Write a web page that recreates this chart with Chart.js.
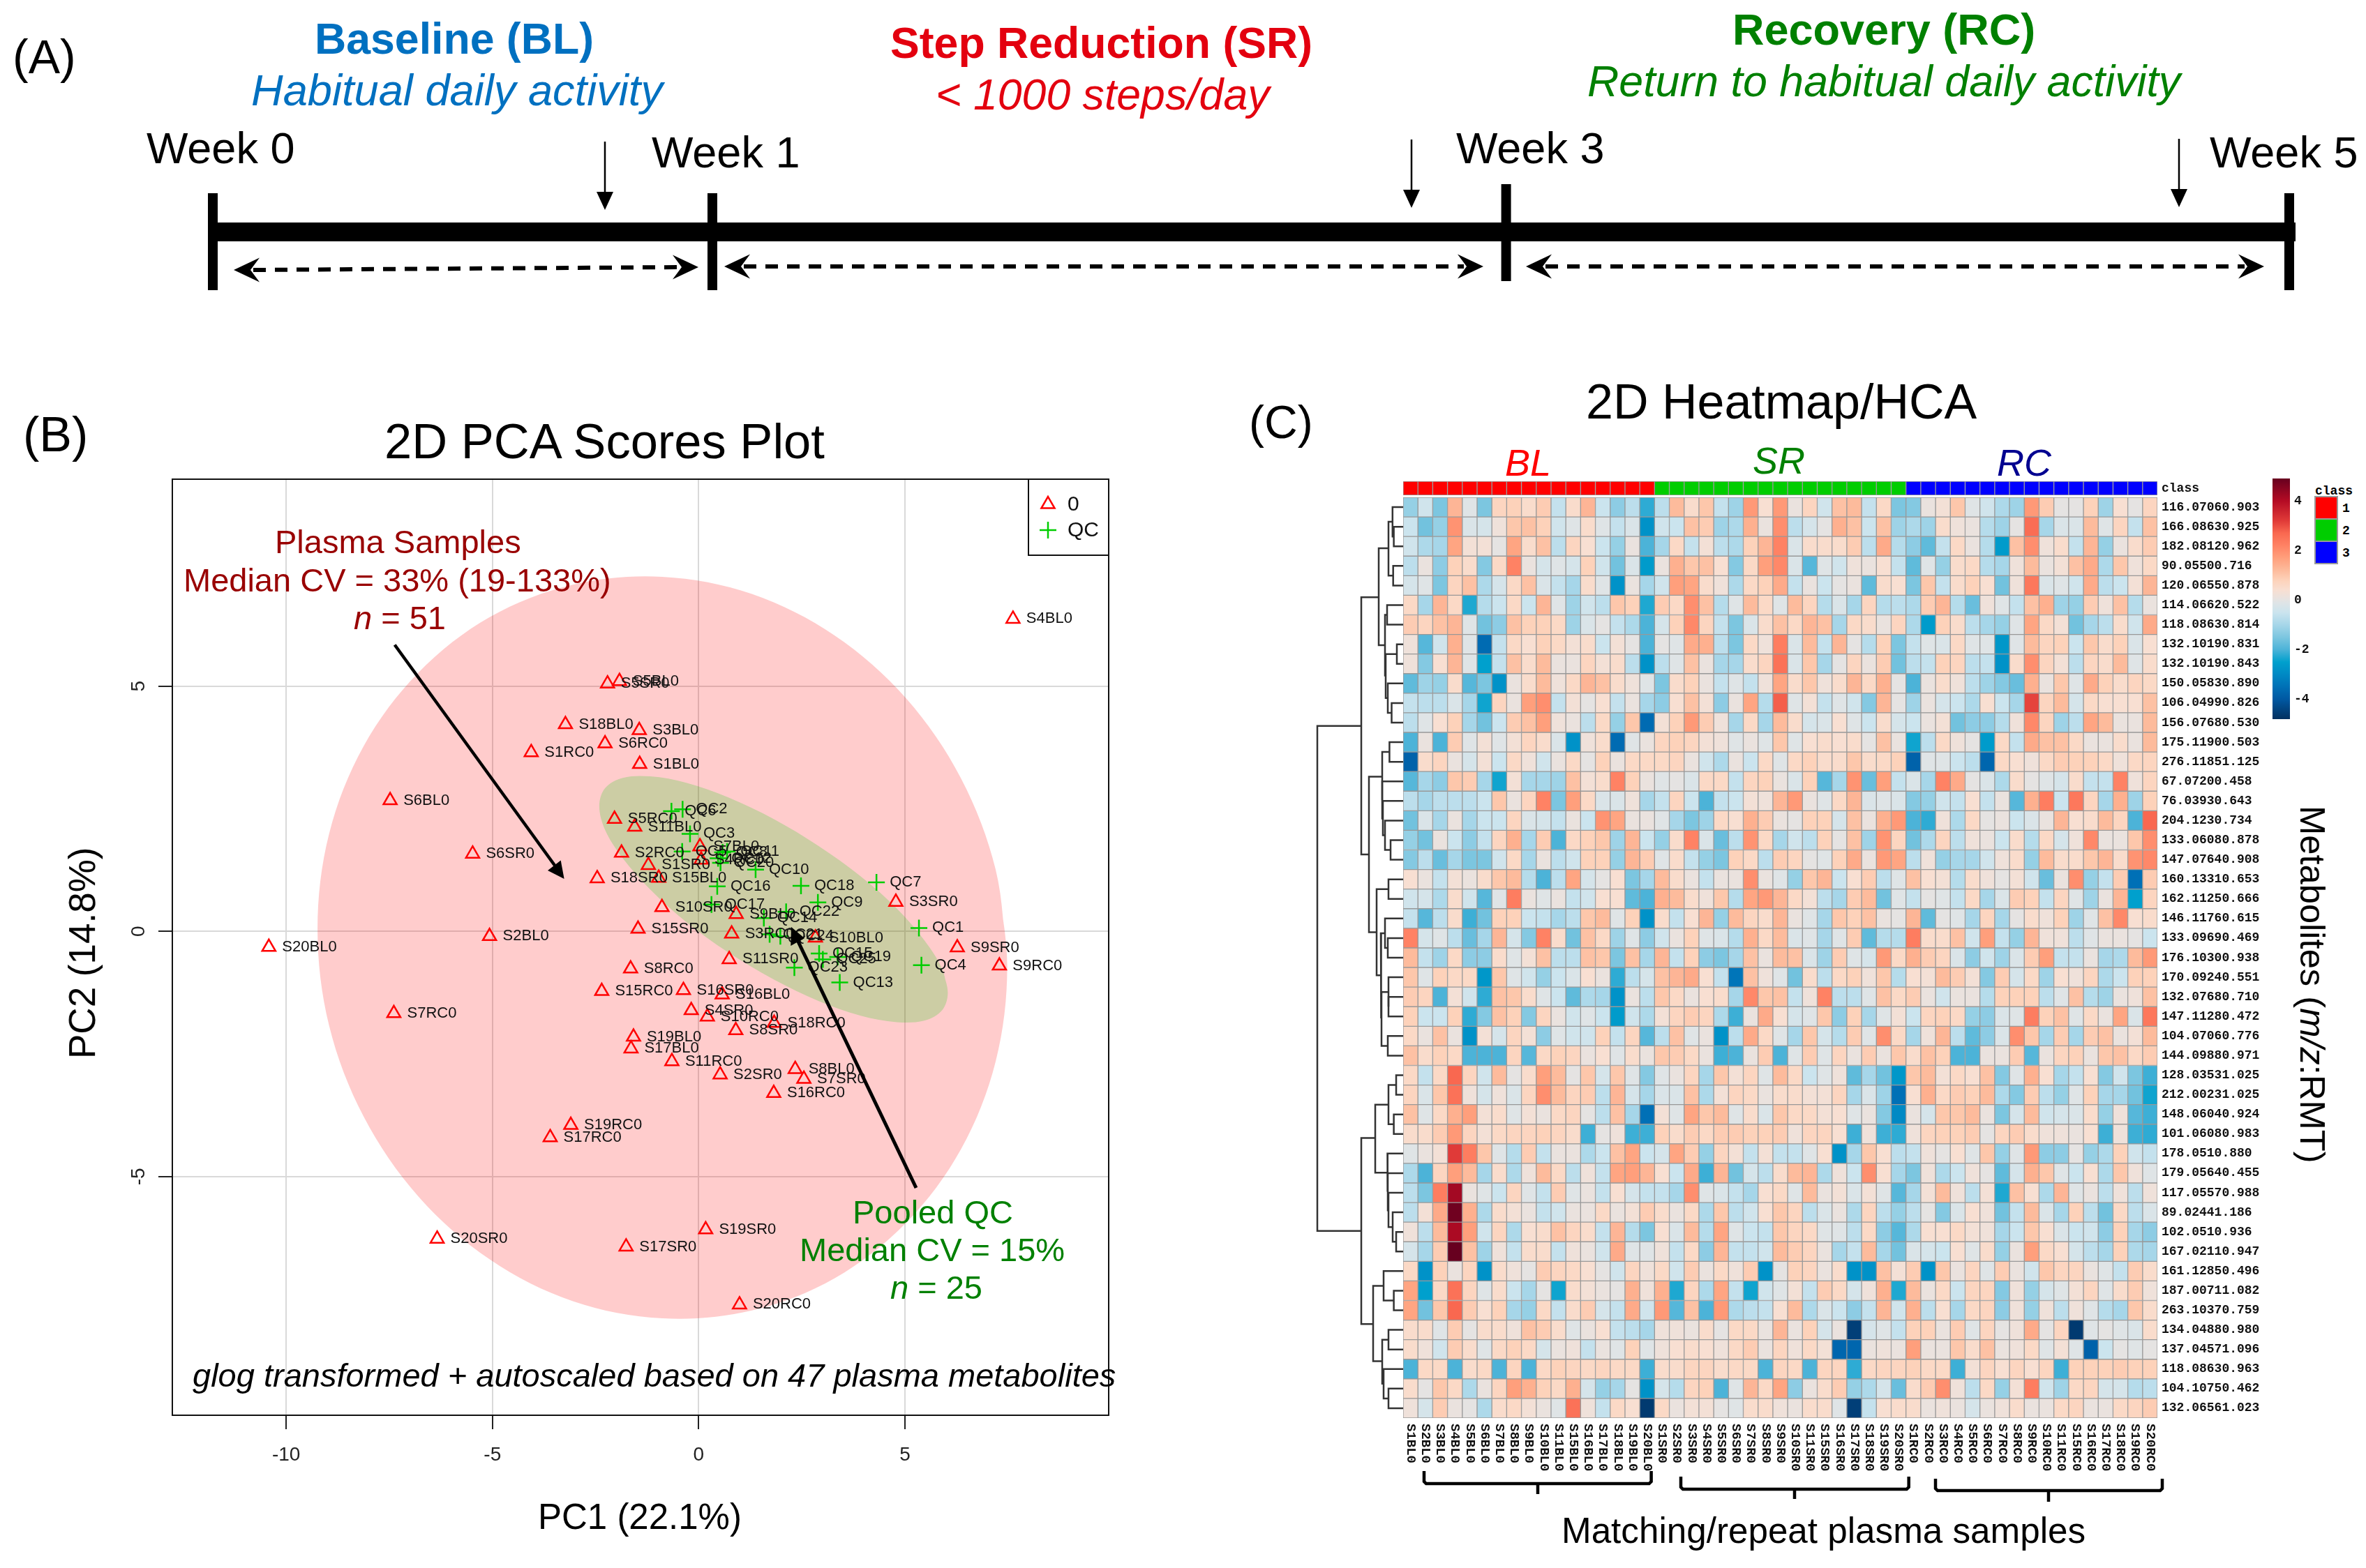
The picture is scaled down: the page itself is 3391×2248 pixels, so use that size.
<!DOCTYPE html>
<html>
<head>
<meta charset="utf-8">
<title>PCA and heatmap figure</title>
<script src="https://cdn.jsdelivr.net/npm/chart.js@4/dist/chart.umd.min.js"></script>
<style>
  html, body { margin: 0; background: #fff; }
  #page { position: relative; width: 3391px; height: 2248px; overflow: hidden; background: #fff; }
  canvas { position: absolute; }
  .note { position: absolute; left: 0; top: 0; line-height: 1; white-space: nowrap; transform-origin: 0 0; font-family: "Liberation Sans", Arial, sans-serif; }
  .swatch { position: absolute; box-sizing: border-box; border: 2px solid #999; }
</style>
</head>
<body>
<div id="page"></div>
<script>
// ---- PCA scores (panel B) ----
const sampleLabels = ['S1BL0','S2BL0','S3BL0','S4BL0','S5BL0','S6BL0','S7BL0','S8BL0','S9BL0','S10BL0','S11BL0','S15BL0','S16BL0','S17BL0','S18BL0','S19BL0','S20BL0',
  'S1SR0','S2SR0','S3SR0','S4SR0','S5SR0','S6SR0','S7SR0','S8SR0','S9SR0','S10SR0','S11SR0','S15SR0','S16SR0','S17SR0','S18SR0','S19SR0','S20SR0',
  'S1RC0','S2RC0','S3RC0','S4RC0','S5RC0','S6RC0','S7RC0','S8RC0','S9RC0','S10RC0','S11RC0','S15RC0','S16RC0','S17RC0','S18RC0','S19RC0','S20RC0'];
const sampleX = [-1.43,-5.07,-1.44,7.62,-1.92,-7.48,0.03,2.34,0.91,2.83,-1.55,-0.97,0.57,-1.64,-3.23,-1.58,-10.42,
  -1.22,0.52,4.78,-0.18,-2.21,-5.48,2.55,0.90,6.27,-0.89,0.74,-1.47,-0.37,-1.76,-2.46,0.17,-6.34,
  -4.06,-1.87,0.80,0.06,-2.04,-2.27,-7.39,-1.65,7.29,0.21,-0.65,-2.35,1.82,-3.60,1.83,-3.10,0.99];
const sampleY = [3.41,-0.10,4.10,6.37,5.10,2.67,1.73,-2.81,0.35,-0.13,2.13,1.09,-1.29,-2.39,4.22,-2.15,-0.32,
  1.35,-2.92,0.60,-1.61,5.05,1.58,-3.01,-2.02,-0.33,0.49,-0.57,0.05,-1.20,-6.43,1.08,-6.08,-6.27,
  3.65,1.60,-0.05,1.46,2.29,3.83,-1.67,-0.76,-0.70,-1.74,-2.65,-1.22,-3.30,-4.20,-1.87,-3.95,-7.61];
const qcLabels = ['QC1','QC2','QC3','QC4','QC5','QC6','QC7','QC8','QC9','QC10','QC11','QC12','QC13','QC14','QC15','QC16','QC17','QC18','QC19','QC20','QC21','QC22','QC23','QC24','QC25'];
const qcX = [5.34,-0.39,-0.21,5.40,-0.40,-0.66,4.31,0.58,2.89,1.38,0.69,0.47,3.42,1.58,2.92,0.45,0.31,2.48,3.37,0.53,1.72,2.12,2.32,1.98,3.01];
const qcY = [0.07,2.49,1.99,-0.69,1.63,2.45,1.00,1.61,0.59,1.26,1.63,1.49,-1.04,0.27,-0.45,0.92,0.55,0.93,-0.52,1.40,-0.06,0.40,-0.74,-0.10,-0.57];
// outlines of the two confidence ellipses
const plasmaOutlineX = [7.48,7.20,6.36,5.03,3.30,1.29,-0.88,-3.05,-5.06,-6.79,-8.12,-8.96,-9.24,-8.96,-8.12,-6.79,-5.06,-3.05,-0.88,1.29,3.30,5.03,6.36,7.20,7.48,7.20];
const plasmaOutlineY = [-0.71,1.26,3.12,4.75,6.03,6.88,7.23,7.07,6.41,5.28,3.78,1.99,0.05,-1.92,-3.78,-5.41,-6.69,-7.54,-7.89,-7.73,-7.07,-5.94,-4.44,-2.65,-0.71,1.26];
const qcOutlineX = [6.04,5.90,5.47,4.80,3.93,2.91,1.82,0.72,-0.30,-1.17,-1.84,-2.27,-2.41,-2.27,-1.84,-1.17,-0.30,0.72,1.82,2.91,3.93,4.80,5.47,5.90,6.04,5.90];
const qcOutlineY = [-1.25,-0.76,-0.18,0.47,1.12,1.74,2.29,2.73,3.03,3.16,3.13,2.92,2.56,2.07,1.49,0.85,0.19,-0.43,-0.98,-1.42,-1.72,-1.85,-1.82,-1.61,-1.25,-0.76];
const pcaTicksX = [-10,-5,0,5];
const pcaTicksY = [-5,0,5];
const pcaLegendNames = ['0','QC'];

// ---- heatmap (panel C) ----
const metabolites = ['116.07060.903','166.08630.925','182.08120.962','90.05500.716','120.06550.878','114.06620.522','118.08630.814','132.10190.831','132.10190.843','150.05830.890','106.04990.826','156.07680.530','175.11900.503','276.11851.125','67.07200.458','76.03930.643','204.1230.734','133.06080.878','147.07640.908','160.13310.653','162.11250.666','146.11760.615','133.09690.469','176.10300.938','170.09240.551','132.07680.710','147.11280.472','104.07060.776','144.09880.971','128.03531.025','212.00231.025','148.06040.924','101.06080.983','178.0510.880','179.05640.455','117.05570.988','89.02441.186','102.0510.936','167.02110.947','161.12850.496','187.00711.082','263.10370.759','134.04880.980','137.04571.096','118.08630.963','104.10750.462','132.06561.023'];
const classOfColumn = [1,1,1,1,1,1,1,1,1,1,1,1,1,1,1,1,1,2,2,2,2,2,2,2,2,2,2,2,2,2,2,2,2,2,3,3,3,3,3,3,3,3,3,3,3,3,3,3,3,3,3];
const heatValues = [
[-1.2,-.4,-1.5,1.3,-.1,-1.5,.7,.8,.5,.9,-.6,.5,1.3,-.5,-1.3,-.7,-2.2,-.7,1.2,.5,1,-.6,-1.1,1.8,.4,1.8,.1,.7,-.4,1.1,1.2,-.6,.6,-1.5,-1.4,.1,.3,1,-.1,-.4,-.9,-1.1,1.8,.9,0,0,.8,-1.1,.4,0,.7],
[-.5,-1.6,-1.2,1.9,-.2,-.3,.2,1,1.1,.8,-.4,-.1,.5,-.1,-.6,-.2,-2.8,-.4,-.5,1.1,.9,-1.1,-.9,1.4,.1,2,-.7,-.3,0,1.4,1.1,-.5,1.1,-1.1,-.9,-1.1,.5,.2,.1,-.8,-1.1,0,2.6,-1,-.2,-.2,1.2,-.1,.7,-.6,1.1],
[-.4,-.9,-1,1.6,.3,.3,0,1.6,.5,1.1,-.7,.7,.4,-.5,-1.2,.1,-2,-1,.6,-.6,.3,-.7,-.9,.8,1.3,2.2,-.2,.5,.5,.5,.9,-.7,1.5,-.8,-1.3,-1.8,-.6,.6,.1,-.8,-2.6,1.1,2,.2,.5,-.6,1.3,-1.2,.1,.5,.9],
[-.7,.1,-1.3,.8,.5,-1.4,.6,2.2,.1,-.3,-.1,-.3,.8,-.4,-1.6,-.2,-2.6,.1,1.4,1,1.1,.4,-1.4,.6,1.7,2.1,-.2,-1.9,-.1,-.4,.2,.1,.4,-.6,-1.8,-.1,-1.2,.5,.6,-.8,-1,.2,1.2,.1,.3,1.1,1.5,-.9,1,.2,.6],
[-.3,-.1,-1.5,.7,1.1,-.9,-.3,.6,1.1,-.2,-.6,-1,.5,-.1,-2.8,.1,-1,-.4,1.7,1.6,.5,.2,-.9,.6,.8,1.5,-.6,.1,-.5,0,.1,-1.8,.5,.4,-1.5,1,-.6,.5,.8,.4,-1.6,.2,2.4,-.2,-.1,-.4,1.5,-.7,-.5,.3,1.3],
[.6,-1,1.3,.6,-2.3,-.8,-.5,.6,-.5,1.3,-.1,-1.1,-.4,-.7,1,.8,-2.3,.9,.6,2,1.1,-.8,-.1,1.2,.6,-.1,1.2,.7,-.8,-.2,-1,.7,-.8,-.7,-.9,.9,1.3,-.8,-1.7,.2,-.1,-.6,1.1,1.4,-1.1,-1.2,.9,.2,1.1,-.8,.1],
[.9,.7,1.1,1.3,-.1,-1.6,-1.3,1.1,.8,.8,.6,-1.1,-.2,0,-.6,-.9,-2,-.3,.8,2.1,.7,-.6,-1.5,-.2,.5,1.1,.6,1.3,1.1,-1,.6,.5,.1,.7,-.9,-2.6,.8,.5,-.7,-1,-1.2,-.1,1.6,.6,.3,-1.6,-1,-.7,.5,-.4,1.5],
[.2,-1.9,-.4,1.4,-.1,-3.6,-.6,.6,.4,.8,.6,.3,.5,-.5,.3,0,-2,0,-.1,1.5,1.4,-.7,-1.5,.6,.2,2.3,-.2,1.2,-.6,1.3,0,-.8,.8,-1.5,-.6,-.1,-.2,.6,-.1,-.1,-2.7,-.1,1.2,.7,.8,-.5,1,.5,.8,-.2,.4],
[.2,-1.4,.4,1.3,-.1,-2.5,-.6,1.1,.5,1.2,.1,.1,.7,.3,.5,-.7,-2.8,-.7,-.1,1.1,.1,-1,-1,.5,.7,2.5,-.2,1,-1,0,.7,.1,.9,-1.6,-.7,-.6,.8,.7,-.7,-.6,-2.8,.5,2,.7,.3,-.7,.7,.5,1.2,-.1,.5],
[-1.8,-1.1,-1.2,.5,-1.9,-1.5,-2.8,.1,.5,1.2,.2,.6,1.3,1.1,.5,.2,-.1,-1.5,.5,.8,.1,-.6,-.1,-.6,.2,1.6,.5,1,.2,.5,1.3,.6,1.4,0,-2,.1,.5,.2,-.7,-1.1,-1.4,-1.7,1.4,.1,1,-.1,1.5,.8,.5,.7,.6],
[-.6,-.7,-.7,-.2,-1,-2.4,.7,.1,1.7,2,-.6,.3,0,.4,-.6,.1,-1,-1.3,.4,1.1,.3,-1.3,.1,1.6,-.8,2.8,-.1,.3,-.6,-.1,-.4,-1.4,1.3,0,-1.1,.1,-.3,-.5,-.9,.4,-.5,-1,3.1,.7,1.2,-.3,.6,.4,.4,.4,1.1],
[-.7,-.1,.4,.8,-1,-1.6,-.5,.9,1.1,1.7,.2,.1,-.7,.6,-1.2,1,-3.6,.3,.8,1.8,.9,.2,-1,.6,-1,1.2,.5,-.3,-.2,.4,-.1,-.5,.5,-.3,-.5,.1,.3,-1.6,-1.3,-1.3,-.8,.2,2.1,.7,-1.1,-.7,1.6,1.2,.1,.1,1.2],
[-2,.1,-2,.9,-.1,.3,-.1,.3,.7,.5,-.2,-2.8,.2,.5,-3.6,-.1,.1,.7,.8,.7,.3,.2,-.1,.1,-.1,1,-.1,.4,.5,.4,.5,0,1.1,.1,-2.4,-.7,.6,.2,0,-2.6,.6,-.6,1.5,1.1,1.1,.6,.1,.1,.5,.1,1.2],
[-3.8,.5,.7,.1,-.3,.3,-.5,.6,.2,-.4,.1,.6,0,.8,.1,.6,.6,.6,.7,.1,-.4,-.9,.1,-.5,.6,-.1,.6,.8,.5,.5,1,.5,.6,.8,-3.8,-.1,-.1,-.5,-.7,-3.7,.6,.4,.2,.6,.9,.8,.8,.6,.2,.6,.7],
[-1.9,-1,-1.3,1,.9,-1,-2.4,.3,-1,-1,-1.1,1.1,.3,.5,2.2,.8,.1,-.1,0,-.2,.6,.6,-.6,.7,.8,.1,-.2,.8,-1.9,-1,1.9,-1.7,1.7,-.6,-.2,-1,2.2,1.5,0,-.2,-.9,.5,0,-.1,-.3,.5,-.6,-.6,2.2,.2,.7],
[-.7,-1,-.7,-.7,-.7,-.5,1,.1,.7,2.2,-1.5,1.7,.6,-.2,-.2,.2,-1,-.6,.7,-.5,-2,-.6,-.5,.3,.2,1.3,1.8,.1,-.1,.6,1.3,-.2,-.1,-.2,-1.4,-1.2,-.4,-.6,.4,-.6,.1,-1.9,1.4,2.3,-.5,2.4,.7,-1,1.4,-1.1,.8],
[-1.6,-.2,-1,.1,-1,-.5,-.5,.7,-.2,-.3,-.6,.1,-.5,1.9,1.6,.1,.1,-.1,-1,-1.5,-1.1,.6,.4,1.4,.9,.1,0,.8,.8,-.3,1.1,.1,1.4,1.8,-2,-2.2,.2,-.9,.6,0,.1,-.5,-.2,.1,1.3,.4,.5,1.2,.7,-2,2.7],
[-1.2,-1.6,.1,-.5,-1.3,-.6,.7,1.4,-1,.9,-2,.6,.8,1,-1.1,1.3,-.5,-1.2,.5,2.2,-.2,-1.7,-.7,1.9,.6,-1,-.4,-.7,.8,0,1.1,-1.1,1.9,.7,-1.6,-.9,.7,-.7,.2,.1,-.5,.5,-.8,.6,-.3,.2,2.1,.1,.1,1,2],
[-1.4,-.7,-1.7,-1,-1.5,-1.5,-.4,.6,-1,.1,-.7,-.4,.8,.8,-1.2,1.3,.9,-.1,.5,-.6,-1.2,-1.5,.8,.6,-.7,.9,.7,0,-.1,.8,1.5,.1,1.8,1.6,-.7,.2,-1.2,-1,-1,-.4,.2,.5,-1.2,1.2,.5,.5,1,1.3,.5,1.9,2.1],
[.4,.1,-.6,.3,.1,.5,1,1.2,-.8,-2,-.7,1.6,-.3,0,.4,-1.5,-1,1.2,.5,.1,-.6,.1,.1,2,.1,-.1,-1.2,1,1.3,-.5,.4,.9,-.7,-.1,1.1,.4,.3,-.8,.5,.2,0,.3,-.4,-1.7,.1,2,-1.2,-.6,.9,-3.5,.9],
[-.4,-.3,-.9,.5,-.4,-1.9,-.1,2.3,.1,-.1,.1,-.6,-.4,.4,.4,-1.8,-2,1.4,1.2,.5,.2,1,-.8,1.6,1.8,1.3,.6,.3,-.7,-1,.9,1.2,-1.6,-.1,-.6,0,-.1,-.6,.6,-1,-.2,.9,.8,-.6,.7,-.1,-1.1,.1,1.3,-2.5,.7],
[-.6,-1.9,-.7,.5,-2.1,-1.6,.8,.8,-.5,-.6,-1,-.7,1,1.2,-.1,.8,-2.8,.5,-.6,.4,1.3,-1.2,1.2,.7,.5,1.3,.1,-.1,-1,1,.8,1.1,.1,0,1.3,-1.8,0,-.1,-1,.7,-1,0,.5,.2,.8,-1.1,-.1,1.1,2.1,.4,.5],
[2.2,-.3,-.1,-.7,-1.7,-1,1.3,-.3,-1.4,2.2,.5,-1.6,1.1,.6,-1.1,-.1,-1.3,-.4,.1,.8,-.1,-.2,-.8,1.4,.6,1.2,-.2,-.1,-1,-.1,.9,-1.8,-.8,-.8,2.3,.5,.5,1.1,-.4,1.7,-.6,-1.2,1.3,.2,.2,-.7,-.1,.1,.1,0,-.5],
[1.2,-.6,-1.1,.6,-1.3,-1.3,.5,-.1,.3,1.1,-.7,-.7,1.1,1,-1.5,1.1,-1,1.3,-.6,.8,-1.3,-1.5,-1,1.1,.1,1.2,1.1,-.2,-1.1,.9,-.1,-.3,1.8,.6,1.4,.9,.7,-.2,-1.3,-.4,-1.1,-.2,.9,1.7,-.6,-.6,.1,-1,-.9,1.2,1.8],
[1,-.1,.8,.6,.6,-2.7,1,-.1,-.4,-1.2,-.5,-.2,.4,.1,-2.2,-.7,-.3,1.1,1.3,1.5,.4,-.6,-3.4,1.1,.2,-.1,-1.6,.5,-.7,.6,.8,.2,1,-.8,.4,.3,1.2,.9,.3,-1.4,.9,-.3,.6,-1.1,.4,.2,.7,-.9,-.5,.8,.8],
[.9,.7,-2,.3,-.4,-2.2,1.1,1,.5,-.1,-.5,-1.8,-.9,-1,-2.8,.1,-.7,1,.6,.1,.4,.5,-1,2.1,1,1.1,-.6,.2,2.2,-.7,-.7,-.1,1.1,.6,.9,.1,-.4,.1,.1,-.8,.8,.8,.8,-.7,-.1,1.1,-.8,-1.1,.1,.2,1.1],
[.8,-.5,-.5,.8,-2.2,-1.4,1.1,.8,-1.4,.7,.1,-.4,-.1,-.5,-2.6,-.4,-.9,.3,.7,.9,.7,-.9,-2.1,.1,1.5,.4,-.3,-.1,1,-1.3,.8,-1,-.1,.3,-.5,.7,.8,.6,-1.2,-1.3,-.2,-.1,2.3,.8,1.1,-.1,.6,.1,1.6,-.2,2.4],
[.6,.1,1.1,.1,-2.8,.3,-.3,.7,.3,-1.3,-.1,-.4,-.4,.8,-.6,.7,-1.9,-.7,1.1,-.1,.1,-2.8,-.7,1.5,.6,-.1,-1,1,-.3,-.8,.9,-.1,2,.6,-1,.2,1.3,-.7,-1.8,-1.3,-.2,2,1,-1,.9,-1,.9,1.1,.1,.3,1.2],
[1.1,.5,.8,.6,-2,-2,-2,.7,-1.9,.6,.8,.7,.1,.4,-.1,.5,.1,1,.9,.6,.1,-2.1,-2,.1,.9,-2,-.1,.9,-.1,.7,.1,.9,.1,1,.5,1.1,.8,-2,-2,.1,.1,.9,-1.9,.1,.7,.8,.1,1,1.1,.6,.9],
[.6,-.6,.6,2.7,.7,-.4,1.2,0,.5,1.7,1.2,0,1,-.3,1,-.1,-1.4,-.1,.1,.7,-1,1,.3,.7,-.1,1.2,.6,-.5,-.1,.2,-1.8,-1,-1.6,-2.7,1,1.2,.3,.6,.4,1.1,-1.4,-.1,1.4,.4,-1,-.6,.4,-1.4,-.4,-1.5,-2.1],
[.7,-.2,1,2.5,.2,-.3,.2,-.2,.7,2,1.2,.7,.9,-.7,1.3,-.3,-1,-.2,-.2,1.1,-.9,.3,.7,.6,.1,.5,.5,.3,.3,.7,-1,-.2,-1.1,-3.5,.4,1.4,.6,.9,.8,1.2,-.9,-1.4,.9,-.7,-1.2,-.1,.8,-1,-1,-1.6,-2.4],
[1.1,-.1,.6,1.4,1.7,.3,.5,-.1,.3,.1,.6,.7,0,-.7,1.1,-1,-3.5,.3,-.1,1.6,1,1.2,-.1,.5,-.2,1,.6,.6,.3,.4,-.1,.1,-1.4,-3,.1,-.3,1,1,1.2,.1,-1.5,-.3,1.2,-.4,-.3,-.2,.5,-1.2,.2,-1.9,-2.1],
[.5,.5,.9,1.8,.7,.3,.6,.7,.7,.8,.7,.5,-2.1,0,.2,-2.1,-2.1,.8,.5,.9,.6,.9,.9,.8,.8,.9,.2,.7,.7,.4,-2.1,.2,-2.1,-2.2,.2,.7,.8,.8,.9,0,.7,.9,.5,.2,.2,.1,.4,-2.1,.2,-2.1,-2.2],
[-.1,.1,.3,3.2,2.3,1,-.1,-.8,.9,-.6,.1,.1,-.9,-.5,1.1,1.6,-.5,-.3,1.6,.9,-1.2,.7,.3,-.6,.3,-.6,-.6,-.1,.4,-2.8,-1,1,.4,-.7,-.6,.2,0,.4,-.1,1,-1.2,-.1,1.8,-1.3,-1.3,0,-1.2,-.9,.8,-.4,-.6],
[-.9,-2,.7,1.7,1.2,-1,.5,-.9,.2,1.2,.6,-.7,.2,-.6,1.6,1.7,1.3,.4,-.5,1.5,-2.1,1.3,-1.6,-.3,-.7,.5,1.2,1.3,-.9,.2,-.5,2,.4,-1,-1.5,.2,-.9,-.5,.2,0,-1.8,-.3,1.4,1,-.1,-.5,.4,-.9,1,.2,-.1],
[-.7,-1.5,2.3,4.2,.1,-.1,-.5,.7,-.1,-.6,.9,-.1,.1,-.6,.4,-.3,-.6,-.6,-1,2,-.1,-.2,-.6,-1,.4,.6,-.1,1.2,.1,.3,-.2,.3,-.1,-1.9,-1,.3,1.2,.2,-.7,.3,-2.3,1.1,.4,-.9,1.3,-.1,.1,-.7,.2,-.7,.2],
[-.7,.3,1.5,4.8,1.4,-.9,.5,.3,.1,-.6,-.4,.1,.1,.6,.1,.3,.9,.5,.1,.6,-.9,1,-.7,-.4,.4,1,.7,-.7,-.2,.1,-.9,.7,-.7,-1.2,-.7,0,-1.4,-.2,.4,.2,-1.6,-.6,1.2,-.2,-1,.8,-.7,-1.6,.6,-.7,-.2],
[.2,-.7,1.2,4.1,1.7,-.4,.7,-.9,.4,.5,1.1,.7,.5,-.6,1.3,-.8,-1.5,.4,-.2,1.2,-.8,1.6,-.1,-.5,-.6,1,.7,.6,-.1,-.1,-.7,.6,-1.3,-1.9,-.9,.4,.4,.6,.3,.2,-1,-.5,1,.4,-.2,-.5,-.4,-1.3,.8,-1,-1.3],
[-.3,-1,.9,4.9,1.1,-1.1,.2,-.6,.5,.5,-.6,.2,.1,-.4,1.5,-.1,-.1,.2,-.6,.6,-1.3,1.3,-.6,-.6,-.4,1.2,.9,.7,.1,-1,-.6,1.2,-1,-1.6,-.2,-.3,-.5,.4,-.1,.5,-1.2,.1,1.7,.6,.4,-.3,-.7,-1,.8,-.9,-1],
[.6,-2.8,.8,.1,.7,-2.8,.5,.2,0,.9,.7,.6,.4,0,-.4,.7,.2,.6,-.4,.9,.1,.6,.2,.9,-2.8,0,.8,.7,.1,.5,-2.8,-2.8,1.1,.3,.9,-2.8,1,.1,.7,-.1,.9,.1,-.4,1,.7,.7,.1,-.1,-.6,.9,.5],
[1.6,-2.5,.6,2.5,.7,-.1,.5,-.5,-1,0,-2.4,.5,.3,.1,0,1.4,.2,1.4,-2.3,.7,-.9,1.6,-.6,-2.4,-.4,-.1,.3,-.6,.9,.6,-.3,.2,1.4,-2.3,1.2,.1,.6,-.5,.7,.7,-1.4,.2,-1.2,-.3,-.1,.3,.7,-.1,.5,.9,.2],
[1.6,-1.6,1,2.7,.9,.4,.8,-1,-1.2,.6,-.6,.5,.9,-.3,-.6,1.5,-.4,1.8,-1.9,1.1,-2,1.8,-.9,-.7,-.6,.4,1.2,-.9,-.2,-.5,-1.3,-.6,1.3,-.4,1.4,-.7,.4,-1,.6,.7,-1.3,.2,-1.2,.2,-.7,.2,-.1,-.8,-1,1,.5],
[.5,.5,-.1,.9,0,.5,.5,.2,1.1,.9,.5,-.1,.1,.4,-.6,-.7,-1,.2,.2,.1,.5,0,.6,.6,.1,1.3,.1,.8,-.3,.1,-4.5,-.3,-.1,-.6,.8,.8,.1,.9,-.1,.7,0,.2,1.5,0,.7,-4.6,-.1,0,-.1,-.2,.5],
[.5,.2,-.4,.9,.5,-.1,.6,.8,.6,-.3,.1,.2,-.6,.1,-.1,.8,-.1,.2,.4,.5,.4,.2,.6,.9,.1,.7,.2,.6,.3,-3.7,-3.7,.1,.2,.1,1.7,.1,.1,1,.5,1.1,.1,.2,.6,-.1,.3,-.1,-3.8,-.5,0,-.1,0],
[-2,.6,.6,-2,.5,.6,-2,.7,-2,.6,.8,.7,.6,.7,.6,.6,-2.1,.5,.5,.7,.7,.5,.6,.6,-2,.7,.6,-2,.7,.7,-2.2,.6,.7,.7,.8,.6,.6,-2.1,.3,.7,.4,.7,.4,.7,-2.1,.8,.8,.8,.9,.8,.8],
[.5,0,1,.6,-.9,.1,.7,1.7,1.4,.8,.6,1.4,-.3,-1.2,-1,0,-2.8,-.3,-.8,.7,.8,-2,-.1,1.3,.6,1.6,-1.3,.1,.5,.9,-1.2,-.9,-.3,-1.7,.5,.9,2,.2,-.7,.6,-1.2,.3,2.3,-.4,-1.1,.6,.7,-.3,-.3,-.8,-.7],
[.2,-.3,.9,.1,0,-.9,.5,.6,.3,.1,-.1,2.5,.2,-.6,.6,.4,-4.6,.6,.1,.3,.3,0,-.1,.5,.5,.2,.1,.5,.5,-.1,-4.5,-.6,.4,.5,.5,.1,.2,.1,-.3,.1,.2,.5,.1,.1,.6,.7,.1,.1,.6,.7,.9]
];
const columnLabels = sampleLabels;
const scaleValues = [-4.8,-4,-3.5,-3,-2.5,-2,-1.5,-1,-.5,-.1,.1,.4,.8,1.2,1.7,2.2,2.7,3.2,4,4.9];
const scaleColors = ['#02305f','#0058a2','#0070b6','#0089c4','#00a0cd','#4cb3d8','#7cc6e0','#a6d6e9','#cbe4ee','#dfe4e6','#eae2de','#f8dfd2','#fdd2ba','#fdbb9c','#ff9f7c','#ff8264','#f96850','#e03a38','#b40b24','#67001f'];
const scaleTicks = [-4,-2,0,2,4];
const classColors = {1: '#ff0000', 2: '#00cd00', 3: '#0000ff'};
const classNames = ['1','2','3'];
// dendrogram merges: [row of branch A, height A, row of branch B, height B, height of the join]
const dendroMerges = [
  [2,0,3,0,13.4],[1,0,2.5,13.4,15.2],[4,0,5,0,14.3],[1.75,15.2,4.5,14.3,21],[6,0,7,0,23],[8,0,9,0,9],[11,0,12,0,16.5],[10,0,11.5,16.5,22],
  [8.5,9,10.75,22,25],[6.5,23,9.6,25,26],[3.1,21,8.05,26,35],[13,0,14,0,19.6],[18,0,19,0,18],[17,0,18.5,18,26],[16,0,17.75,26,29],[15,0,16.9,29,30],
  [13.5,19.6,15.95,30,30],[20,0,21,0,21],[23,0,24,0,22],[22,0,23.5,22,26],[26,0,27,0,21],[25,0,26.5,21,21],[28,0,29,0,22],[25.75,21,28.5,22,31],
  [22.75,26,27.1,31,32],[20.5,21,24.9,32,38],[14.76,30,22.7,38,49],[5.6,35,18.73,49,60],
  [30,0,31,0,10],[32,0,33,0,13.4],[30.5,10,32.5,13.4,21],[38,0,39,0,10],[37,0,38.5,10,15],[36,0,37.75,15,21],[35,0,36.9,21,22],[34,0,35.95,22,22.5],
  [31.5,21,34.98,22.5,40],[41,0,42,0,13.4],[40,0,41.5,13.4,28],[43,0,44,0,21],[46,0,47,0,21],[45,0,46.5,21,28],[43.5,21,45.75,28,30],[40.75,28,44.6,30,43],
  [33.2,40,42.7,43,60],[12.17,60,37.95,60,123]
];

Chart.defaults.font.family = '"Liberation Sans", Arial, sans-serif';
Chart.defaults.animation = false;
Chart.defaults.responsive = false;
Chart.defaults.plugins.legend.display = false;
Chart.defaults.plugins.tooltip.enabled = false;

const page = document.getElementById('page');
const MONO = 'bold 18px "Liberation Mono", monospace';

function addCanvas(left, top, w, h, z) {
  const c = document.createElement('canvas');
  c.width = w; c.height = h;
  c.style.left = left + 'px'; c.style.top = top + 'px';
  if (z) c.style.zIndex = z;
  page.appendChild(c);
  return c.getContext('2d');
}

function hexToRgb(h) { return [1, 3, 5].map(i => parseInt(h.slice(i, i + 2), 16)); }

function heatColor(v) {
  let i = 0;
  while (i < scaleValues.length - 2 && v > scaleValues[i + 1]) i++;
  const t = Math.min(1, Math.max(0, (v - scaleValues[i]) / (scaleValues[i + 1] - scaleValues[i])));
  const a = hexToRgb(scaleColors[i]), b = hexToRgb(scaleColors[i + 1]);
  return `rgb(${a.map((c, k) => Math.round(c + (b[k] - c) * t)).join(',')})`;
}

// stops tick labels eating into the plot area, so the area stays where the canvas puts it
function noLabelPadding(s) {
  s.paddingTop = 0; s.paddingBottom = 0; s.paddingLeft = 0; s.paddingRight = 0;
}

// Panel B
const pointLabels = {
  id: 'pointLabels',
  afterDatasetsDraw(chart) {
    const {ctx, scales} = chart;
    ctx.save();
    ctx.font = '22px "Liberation Sans", Arial, sans-serif';
    ctx.fillStyle = '#111';
    ctx.textBaseline = 'middle';
    sampleLabels.forEach((l, i) => ctx.fillText(l, scales.x.getPixelForValue(sampleX[i]) + 19, scales.y.getPixelForValue(sampleY[i])));
    qcLabels.forEach((l, i) => ctx.fillText(l, scales.x.getPixelForValue(qcX[i]) + 19, scales.y.getPixelForValue(qcY[i])));
    ctx.restore();
  }
};

const plotFrame = {
  id: 'plotFrame',
  afterDraw(chart) {
    const {ctx, chartArea: a} = chart;
    ctx.save();
    ctx.strokeStyle = '#111';
    ctx.lineWidth = 2;
    ctx.strokeRect(a.left, a.top, a.right - a.left, a.bottom - a.top);
    // inset legend
    const bx = a.right - 115, by = a.top, bw = 115, bh = 109;
    ctx.strokeRect(bx, by, bw, bh);
    ctx.lineWidth = 2.5;
    ctx.strokeStyle = '#ff0000';
    ctx.fillStyle = 'rgba(0,0,0,0)';
    Chart.helpers.drawPoint(ctx, {pointStyle: 'triangle', radius: 11, rotation: 0, borderWidth: 2.5}, bx + 28, by + 36);
    ctx.strokeStyle = '#00cd00';
    Chart.helpers.drawPoint(ctx, {pointStyle: 'cross', radius: 12, rotation: 0, borderWidth: 2.5}, bx + 28, by + 73);
    ctx.fillStyle = '#111';
    ctx.font = '30px "Liberation Sans", Arial, sans-serif';
    ctx.textBaseline = 'middle';
    pcaLegendNames.forEach((n, i) => ctx.fillText(n, bx + 56, by + 37 + i * 37));
    ctx.restore();
  }
};

function zipXY(xs, ys) { return xs.map((x, i) => ({x, y: ys[i]})); }

new Chart(addCanvas(100, 660, 1510, 1449), {
  type: 'scatter',
  data: {
    datasets: [
      {data: zipXY(plasmaOutlineX, plasmaOutlineY), showLine: true, fill: 'shape', tension: 0.34, borderWidth: 0, pointRadius: 0, backgroundColor: 'rgba(255,0,0,0.2)', order: 4},
      {data: zipXY(qcOutlineX, qcOutlineY), showLine: true, fill: 'shape', tension: 0.34, borderWidth: 0, pointRadius: 0, backgroundColor: 'rgba(0,205,0,0.2)', order: 3},
      {data: zipXY(sampleX, sampleY), pointStyle: 'triangle', pointRadius: 11, pointBorderWidth: 2.5, pointBorderColor: '#ff0000', pointBackgroundColor: 'rgba(0,0,0,0)', order: 2},
      {data: zipXY(qcX, qcY), pointStyle: 'cross', pointRadius: 12, pointBorderWidth: 2.5, pointBorderColor: '#00cd00', order: 1}
    ]
  },
  options: {
    layout: {padding: {top: 27, right: 21}},
    scales: {
      x: {
        min: -12.76, max: 9.94,
        afterBuildTicks: s => { s.ticks = pcaTicksX.map(v => ({value: v})); },
        afterFit: s => { s.height = 80; noLabelPadding(s); },
        grid: {color: '#d9d9d9', lineWidth: 2, tickColor: '#222', tickLength: 20, tickWidth: 2},
        border: {display: false},
        ticks: {color: '#222', font: {size: 28}, padding: 20, maxRotation: 0}
      },
      y: {
        min: -9.865, max: 9.22,
        afterBuildTicks: s => { s.ticks = pcaTicksY.map(v => ({value: v})); },
        afterFit: s => { s.width = 147; noLabelPadding(s); },
        grid: {color: '#d9d9d9', lineWidth: 2, tickColor: '#222', tickLength: 20, tickWidth: 2},
        border: {display: false},
        ticks: {color: '#222', font: {size: 28}, padding: 15, minRotation: 90, maxRotation: 90, crossAlign: 'center'}
      }
    }
  },
  plugins: [pointLabels, plotFrame]
});

// Panel C: dendrogram
new Chart(addCanvas(1880, 713, 131, 1320), {
  type: 'scatter',
  data: {
    datasets: dendroMerges.map(m => ({
      data: [{x: m[1], y: m[0]}, {x: m[4], y: m[0]}, {x: m[4], y: m[2]}, {x: m[3], y: m[2]}],
      showLine: true, pointRadius: 0, borderColor: '#333', borderWidth: 2.5, clip: false
    }))
  },
  options: {
    scales: {
      x: {display: false, min: 0, max: 131, reverse: true},
      y: {display: false, min: 0.5, max: 47.5, reverse: true}
    }
  }
});

// Panel C: cells, one dataset per sample column
const cellBars = {barPercentage: 1, categoryPercentage: 1, borderWidth: 1, borderColor: '#999', borderSkipped: false, grouped: false};

const columnTickLabels = {
  id: 'columnTickLabels',
  afterDraw(chart) {
    const {ctx, scales, chartArea} = chart;
    ctx.save();
    ctx.font = 'bold 19px "Liberation Mono", monospace';
    ctx.fillStyle = '#111';
    ctx.textBaseline = 'middle';
    columnLabels.forEach((l, c) => {
      ctx.save();
      ctx.translate(scales.x.getPixelForValue(c + 0.5), chartArea.bottom + 8);
      ctx.rotate(Math.PI / 2);
      ctx.fillText(l, 0, 0);
      ctx.restore();
    });
    ctx.restore();
  }
};

function cellScales() {
  return {
    x: {display: false, type: 'linear', min: 0, max: classOfColumn.length},
    y: {
      position: 'right', grid: {display: false, drawTicks: false}, border: {display: false},
      afterFit: s => { s.width = 160; noLabelPadding(s); },
      ticks: {autoSkip: false, font: {family: '"Liberation Mono", monospace', size: 18, weight: 'bold'}, color: '#111', padding: 6}
    }
  };
}

new Chart(addCanvas(2011, 713, 1241, 1410), {
  type: 'bar',
  data: {
    labels: metabolites,
    datasets: classOfColumn.map((_, c) => ({
      ...cellBars,
      data: metabolites.map(() => [c, c + 1]),
      backgroundColor: heatValues.map(row => heatColor(row[c]))
    }))
  },
  options: {indexAxis: 'y', layout: {padding: {bottom: 90}}, scales: cellScales()},
  plugins: [columnTickLabels]
});

new Chart(addCanvas(2011, 690, 1241, 20), {
  type: 'bar',
  data: {
    labels: ['class'],
    datasets: classOfColumn.map((k, c) => ({...cellBars, data: [[c, c + 1]], backgroundColor: classColors[k]}))
  },
  options: {indexAxis: 'y', scales: cellScales()}
});

// Panel C: colour key
new Chart(addCanvas(3257, 676, 60, 365), {
  type: 'bar',
  data: {
    labels: ['key'],
    datasets: [{
      data: [[scaleValues[0], scaleValues[scaleValues.length - 1]]],
      barPercentage: 1, categoryPercentage: 1,
      backgroundColor(c) {
        const a = c.chart.chartArea;
        if (!a) return '#ddd';
        const y = c.chart.scales.y;
        const g = c.chart.ctx.createLinearGradient(0, y.getPixelForValue(scaleValues[0]), 0, y.getPixelForValue(scaleValues[scaleValues.length - 1]));
        scaleValues.forEach((v, i) => g.addColorStop((v - scaleValues[0]) / (scaleValues[scaleValues.length - 1] - scaleValues[0]), scaleColors[i]));
        return g;
      }
    }]
  },
  options: {
    layout: {padding: {top: 10, bottom: 10}},
    scales: {
      x: {display: false},
      y: {
        position: 'right', min: -4.8, max: 4.9,
        afterBuildTicks: s => { s.ticks = scaleTicks.map(v => ({value: v})); },
        afterFit: s => { s.width = 35; noLabelPadding(s); },
        grid: {display: false, drawTicks: false}, border: {display: false},
        ticks: {font: {family: '"Liberation Mono", monospace', size: 18, weight: 'bold'}, color: '#111', padding: 6}
      }
    }
  }
});

classNames.forEach((n, i) => {
  const d = document.createElement('div');
  d.className = 'swatch';
  d.style.cssText = `left:3317px;top:${711 + i * 32}px;width:34px;height:34px;background:${classColors[n]}`;
  page.appendChild(d);
});

// Overlay: timeline, arrows and brackets are drawn in page pixels
const weekBarX = [305, 1021, 2158.6, 3281];
const weekBarTop = [277, 277, 264, 277];
const weekBarBottom = [416, 416, 403, 416];
const sampleArrowX = [867, 2023, 3123];
const sampleArrowTop = [203, 200, 199];
const sampleArrowTip = [301, 298, 297];

function seg(points, width, extra) {
  return {data: points.map(p => ({x: p[0], y: p[1]})), showLine: true, pointRadius: 0, borderColor: '#000', borderWidth: width, clip: false, ...extra};
}
function solid(points) {
  return {data: points.map(p => ({x: p[0], y: p[1]})), showLine: true, fill: 'shape', pointRadius: 0, borderWidth: 0, backgroundColor: '#000', clip: false};
}
function bracket(x0, x1, top, bottom) {
  return seg([[x0, top], [x0, bottom - 3], [x0 + 3, bottom], [x1 - 3, bottom], [x1, bottom - 3], [x1, top]], 4.5);
}
function dashedSpan(x0, y0, x1, y1) {
  return [
    seg([[x0 + 28, y0], [x1 - 28, y1]], 6, {borderDash: [18, 13]}),
    solid([[x0, y0], [x0 + 37, y0 - 17.5], [x0 + 24, y0], [x0 + 37, y0 + 17.5]]),
    solid([[x1, y1], [x1 - 37, y1 - 17.5], [x1 - 24, y1], [x1 - 37, y1 + 17.5]])
  ];
}

const overlaySets = [
  seg([[298.5, 332.5], [3290, 332.5]], 27),
  ...weekBarX.map((x, i) => seg([[x, weekBarTop[i]], [x, weekBarBottom[i]]], 14)),
  ...sampleArrowX.flatMap((x, i) => [
    seg([[x, sampleArrowTop[i]], [x, sampleArrowTip[i] - 15]], 2.5),
    solid([[x, sampleArrowTip[i]], [x - 12, sampleArrowTip[i] - 26], [x + 12, sampleArrowTip[i] - 26]])
  ]),
  ...dashedSpan(335, 387, 1001, 383),
  ...dashedSpan(1038, 382, 2126, 382),
  ...dashedSpan(2187, 382, 3245, 382),
  // arrows pointing into the PCA clusters
  seg([[565.7, 924.5], [796, 1242]], 4.5),
  solid([[808.6, 1260], [785, 1248], [803.7, 1233.4]]),
  seg([[1313, 1703], [1143, 1348]], 5),
  solid([[1134, 1329], [1133.3, 1356], [1153, 1345]]),
  // brackets under the sample labels
  bracket(2041, 2366.6, 2109, 2127),
  seg([[2204, 2127], [2204, 2142]], 4.5),
  bracket(2409, 2735.7, 2117, 2135),
  seg([[2572, 2135], [2572, 2149]], 4.5),
  bracket(2774, 3099, 2120, 2137),
  seg([[2936, 2137], [2936, 2153]], 4.5)
];

new Chart(addCanvas(0, 0, 3391, 2248, 5), {
  type: 'scatter',
  data: {datasets: overlaySets},
  options: {
    scales: {
      x: {display: false, min: 0, max: 3391},
      y: {display: false, min: 0, max: 2248, reverse: true}
    }
  }
});

// Text annotations: html, x, baseline, size, colour, style, angle
const BLUE = '#0070c0', RED = '#e3000f', GREEN = '#008000', DARKRED = '#990000';
const notes = [
  ['(A)', 18, 105, 68, '#000'],
  ['Baseline (BL)', 451, 77, 62.6, BLUE, 'bold'],
  ['Habitual daily activity', 360, 151.7, 63.2, BLUE, 'italic'],
  ['Step Reduction (SR)', 1276, 83, 62.6, RED, 'bold'],
  ['&lt; 1000 steps/day', 1341, 157, 62.6, RED, 'italic'],
  ['Recovery (RC)', 2483, 64, 63, GREEN, 'bold'],
  ['Return to habitual daily activity', 2275, 138, 62.7, GREEN, 'italic'],
  ['Week 0', 210, 234, 63, '#000'],
  ['Week 1', 934, 240, 63, '#000'],
  ['Week 3', 2087, 234, 63, '#000'],
  ['Week 5', 3167, 240, 63, '#000'],
  ['(B)', 33, 647, 70, '#000'],
  ['2D PCA Scores Plot', 551, 658, 70.5, '#000'],
  ['Plasma Samples', 394, 793, 47, DARKRED],
  ['Median CV = 33% (19-133%)', 263, 848, 47, DARKRED],
  ['<i>n</i> = 51', 507, 902, 47, DARKRED],
  ['Pooled QC', 1222, 1754, 47, GREEN],
  ['Median CV = 15%', 1146, 1808, 47, GREEN],
  ['<i>n</i> = 25', 1276, 1862, 47, GREEN],
  ['glog transformed + autoscaled based on 47 plasma metabolites', 276, 1988, 47, '#000', 'italic'],
  ['PC1 (22.1%)', 771, 2192, 51, '#000'],
  ['PC2 (14.8%)', 136, 1518, 53, '#000', '', -90],
  ['(C)', 1790, 628, 66, '#000'],
  ['2D Heatmap/HCA', 2273, 600, 70, '#000'],
  ['BL', 2157, 682, 54, '#ff0000', 'italic'],
  ['SR', 2512, 679, 54, GREEN, 'italic'],
  ['RC', 2862, 682, 54, '#000090', 'italic'],
  ['Metabolites (<i>m/z</i>:RMT)', 3296, 1155, 50.7, '#000', '', 90],
  ['Matching/repeat plasma samples', 2238, 2212, 51.2, '#000']
];

notes.forEach(([html, x, base, size, color, style, angle]) => {
  const d = document.createElement('div');
  d.className = 'note';
  d.innerHTML = html;
  d.style.fontSize = size + 'px';
  d.style.color = color;
  d.style.zIndex = 6;
  if (style === 'bold') d.style.fontWeight = 'bold';
  if (style === 'italic') d.style.fontStyle = 'italic';
  d.style.transform = `translate(${x}px, ${base}px) rotate(${angle || 0}deg) translate(0, ${-0.8465 * size}px)`;
  page.appendChild(d);
});

const legendTexts = [['class', 3318, 703], ['1', 3357, 728], ['2', 3357, 760], ['3', 3357, 792]];
legendTexts.forEach(([t, x, y]) => {
  const d = document.createElement('div');
  d.className = 'note';
  d.textContent = t;
  d.style.font = MONO;
  d.style.transform = `translate(${x}px, ${y - 9}px)`;
  page.appendChild(d);
});
</script>
</body>
</html>
